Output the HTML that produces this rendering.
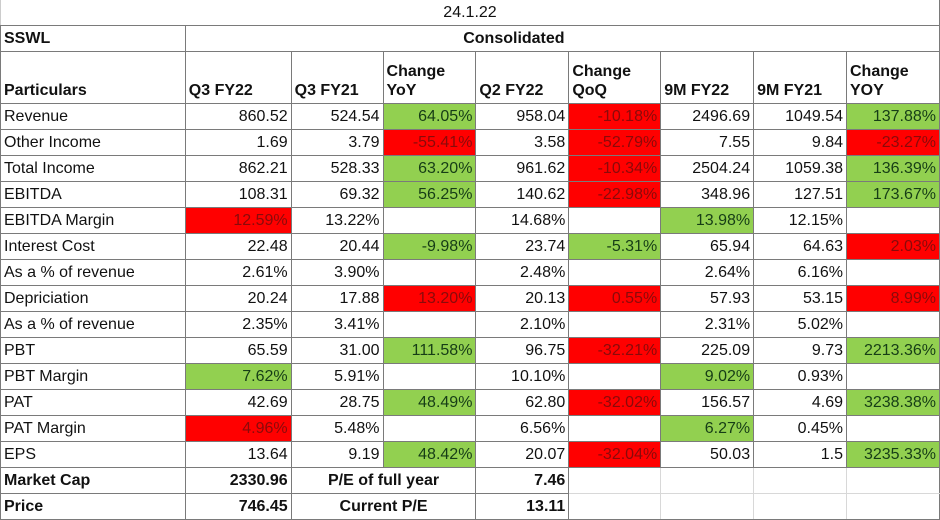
<!DOCTYPE html>
<html><head><meta charset="utf-8"><style>
html,body{margin:0;padding:0;background:#fff;}
body{width:940px;height:519px;overflow:hidden;font-family:"Liberation Sans",Arial,sans-serif;font-size:16px;color:#111;}
table{border-collapse:collapse;table-layout:fixed;position:absolute;left:0;top:-1px;}
td{border:1px solid #7a7a7a;height:25px;padding:0 3px;white-space:nowrap;overflow:hidden;line-height:25px;text-align:right;}
td.l{text-align:left;}
td.c{text-align:center;}
.b{font-weight:bold;}
.g{background:#92d050;color:#163d16;}
.r{background:#ff0000;color:#8a0a0a;}
.lt{border-color:#d8d8d8;}
tr.h td{height:48px;vertical-align:bottom;line-height:19px;padding-bottom:3px;font-weight:bold;text-align:left;}
</style></head><body>
<table>
<colgroup><col style="width:185px"><col style="width:106px"><col style="width:92px"><col style="width:93px"><col style="width:93px"><col style="width:92px"><col style="width:93px"><col style="width:93px"><col style="width:93px"></colgroup>
<tr><td colspan="9" class="c" style="border-top-color:#ccc;border-left-color:#ccc;">24.1.22</td></tr>
<tr><td class="l b">SSWL</td><td colspan="8" class="c b" style="padding-right:100px">Consolidated</td></tr>
<tr class="h"><td>Particulars</td><td>Q3 FY22</td><td>Q3 FY21</td><td>Change<br>YoY</td><td>Q2 FY22</td><td>Change<br>QoQ</td><td>9M FY22</td><td>9M FY21</td><td>Change<br>YOY</td></tr>
<tr><td class="l">Revenue</td><td>860.52</td><td>524.54</td><td class="g">64.05%</td><td>958.04</td><td class="r">-10.18%</td><td>2496.69</td><td>1049.54</td><td class="g">137.88%</td></tr>
<tr><td class="l">Other Income</td><td>1.69</td><td>3.79</td><td class="r">-55.41%</td><td>3.58</td><td class="r">-52.79%</td><td>7.55</td><td>9.84</td><td class="r">-23.27%</td></tr>
<tr><td class="l">Total Income</td><td>862.21</td><td>528.33</td><td class="g">63.20%</td><td>961.62</td><td class="r">-10.34%</td><td>2504.24</td><td>1059.38</td><td class="g">136.39%</td></tr>
<tr><td class="l">EBITDA</td><td>108.31</td><td>69.32</td><td class="g">56.25%</td><td>140.62</td><td class="r">-22.98%</td><td>348.96</td><td>127.51</td><td class="g">173.67%</td></tr>
<tr><td class="l">EBITDA Margin</td><td class="r">12.59%</td><td>13.22%</td><td></td><td>14.68%</td><td></td><td class="g">13.98%</td><td>12.15%</td><td></td></tr>
<tr><td class="l">Interest Cost</td><td>22.48</td><td>20.44</td><td class="g">-9.98%</td><td>23.74</td><td class="g">-5.31%</td><td>65.94</td><td>64.63</td><td class="r">2.03%</td></tr>
<tr><td class="l">As a % of revenue</td><td>2.61%</td><td>3.90%</td><td></td><td>2.48%</td><td></td><td>2.64%</td><td>6.16%</td><td></td></tr>
<tr><td class="l">Depriciation</td><td>20.24</td><td>17.88</td><td class="r">13.20%</td><td>20.13</td><td class="r">0.55%</td><td>57.93</td><td>53.15</td><td class="r">8.99%</td></tr>
<tr><td class="l">As a % of revenue</td><td>2.35%</td><td>3.41%</td><td></td><td>2.10%</td><td></td><td>2.31%</td><td>5.02%</td><td></td></tr>
<tr><td class="l">PBT</td><td>65.59</td><td>31.00</td><td class="g">111.58%</td><td>96.75</td><td class="r">-32.21%</td><td>225.09</td><td>9.73</td><td class="g">2213.36%</td></tr>
<tr><td class="l">PBT Margin</td><td class="g">7.62%</td><td>5.91%</td><td></td><td>10.10%</td><td></td><td class="g">9.02%</td><td>0.93%</td><td></td></tr>
<tr><td class="l">PAT</td><td>42.69</td><td>28.75</td><td class="g">48.49%</td><td>62.80</td><td class="r">-32.02%</td><td>156.57</td><td>4.69</td><td class="g">3238.38%</td></tr>
<tr><td class="l">PAT Margin</td><td class="r">4.96%</td><td>5.48%</td><td></td><td>6.56%</td><td></td><td class="g">6.27%</td><td>0.45%</td><td></td></tr>
<tr><td class="l">EPS</td><td>13.64</td><td>9.19</td><td class="g">48.42%</td><td>20.07</td><td class="r">-32.04%</td><td>50.03</td><td>1.5</td><td class="g">3235.33%</td></tr>
<tr><td class="l b">Market Cap</td><td class="b">2330.96</td><td colspan="2" class="c b">P/E of full year</td><td class="b">7.46</td><td class="lt"></td><td class="lt"></td><td class="lt"></td><td class="lt" style="border-right-color:#7a7a7a"></td></tr>
<tr><td class="l b">Price</td><td class="b">746.45</td><td colspan="2" class="c b">Current P/E</td><td class="b">13.11</td><td class="lt" style="border-bottom-color:#7a7a7a"></td><td class="lt" style="border-bottom-color:#7a7a7a"></td><td class="lt" style="border-bottom-color:#7a7a7a"></td><td class="lt" style="border-right-color:#7a7a7a;border-bottom-color:#7a7a7a"></td></tr>
</table>
</body></html>
